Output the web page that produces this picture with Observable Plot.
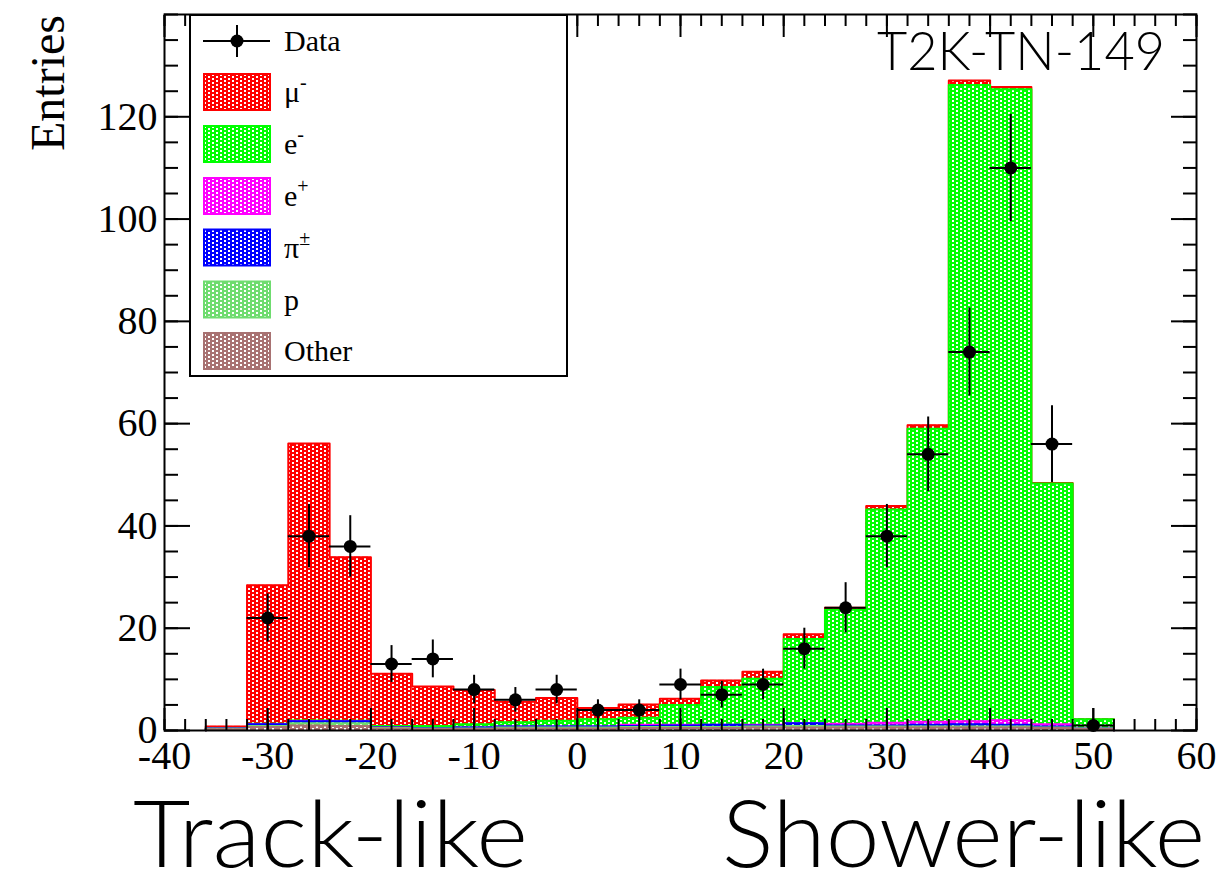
<!DOCTYPE html>
<html>
<head>
<meta charset="utf-8">
<script src="https://cdn.jsdelivr.net/npm/d3@7"></script>
<script src="https://cdn.jsdelivr.net/npm/@observablehq/plot@0.6"></script>
<style>
  html, body { margin: 0; padding: 0; background: #fff; }
  #chart svg { display: block; }
</style>
</head>
<body>
<div id="chart"></div>
<script>
// Lower edges of the 4-unit bins of the discriminator variable
const binLow = [-36, -32, -28, -24, -20, -16, -12, -8, -4, 0, 4, 8, 12, 16, 20, 24, 28, 32, 36, 40, 44, 48];
const binWidth = 4;

// Simulated contributions per bin, stacked bottom to top
const other    = [0.25, 0.7, 1.0, 0.9, 0.4, 0.3, 0.3, 0.4, 0.4, 0.4, 0.5, 0.5, 0.5, 0.6, 0.6, 0.6, 0.6, 0.6, 0.6, 0.6, 0.5, 0.3];
const proton   = [0.1, 0.2, 0.4, 0.5, 0.1, 0.1, 0.1, 0.2, 0.2, 0.2, 0.2, 0.2, 0.2, 0.2, 0.3, 0.2, 0.2, 0.2, 0.2, 0.2, 0.1, 0.1];
const pion     = [0.05, 0.3, 0.4, 0.4, 0.1, 0.1, 0.2, 0.2, 0.2, 0.2, 0.2, 0.3, 0.4, 0.2, 0.5, 0.2, 0.2, 0.3, 0.4, 0.3, 0.2, 0];
const positron = [0, 0, 0.05, 0, 0, 0, 0, 0, 0, 0, 0.2, 0.1, 0, 0.1, 0, 0.3, 0.5, 0.6, 0.6, 0.9, 0.4, 0];
const electron = [0.1, 0.1, 0.1, 0.1, 0.3, 0.4, 0.6, 0.8, 1.1, 1.4, 1.4, 3.9, 7.4, 9.0, 16.5, 22.3, 41.7, 57.3, 124.4, 123.4, 47.1, 1.8];
const muon     = [0.3, 27.1, 54.15, 32.0, 10.2, 7.7, 6.7, 4.0, 4.45, 2.2, 2.6, 1.2, 1.3, 1.4, 0.9, 0.4, 0.7, 0.7, 0.9, 0.4, 0.1, 0];

// Observed entries per bin and their error bars
const dataCounts = [0, 22, 38, 36, 13, 14, 8, 6, 8, 4, 4, 9, 7, 9, 16, 24, 38, 54, 74, 110, 56, 1];
const errUp      = [0, 4.7, 6.2, 6.0, 3.6, 3.7, 2.8, 2.4, 2.8, 2.0, 2.0, 3.0, 2.6, 3.0, 4.0, 4.9, 6.2, 7.3, 8.6, 10.5, 7.5, 3.3];
const errDown    = [0, 4.7, 6.2, 6.0, 3.6, 3.7, 2.8, 2.4, 2.8, 2.0, 2.0, 3.0, 2.6, 3.0, 4.0, 4.9, 6.2, 7.3, 8.6, 10.5, 7.5, 0.8];

// Axis ticks
const xMajor = [-40, -30, -20, -10, 0, 10, 20, 30, 40, 50, 60];
const yMajor = [0, 20, 40, 60, 80, 100, 120];

// Components, bottom of the stack first
const components = [
  {label: "Other", values: other,    color: "#a87272", id: "pat-other"},
  {label: "p",     values: proton,   color: "#6fdc6f", id: "pat-p"},
  {label: "π", sup: "±", values: pion,     color: "#0000ff", id: "pat-pi"},
  {label: "e", sup: "+", values: positron, color: "#ff00ff", id: "pat-ep"},
  {label: "e", sup: "-", values: electron, color: "#00ff00", id: "pat-em"},
  {label: "μ", sup: "-", values: muon,     color: "#ff0000", id: "pat-mu"}
];

// Cumulative stack levels
let running = binLow.map(() => 0);
const levels = components.map(c => {
  running = running.map((r, i) => r + c.values[i]);
  return {...c, cum: running.slice()};
});

// Step outline of one cumulative level
function outline(cum) {
  const pts = [{x: binLow[0], y: 0}];
  binLow.forEach((lo, i) => {
    pts.push({x: lo, y: cum[i]});
    pts.push({x: lo + binWidth, y: cum[i]});
  });
  pts.push({x: binLow[binLow.length - 1] + binWidth, y: 0});
  return pts;
}

// Drawn from the total down, each lower level painted over the one above
const histMarks = [];
levels.slice().reverse().forEach(l => {
  const bars = binLow.map((lo, i) => ({x1: lo, x2: lo + binWidth, y: l.cum[i]}));
  histMarks.push(Plot.rectY(bars, {x1: "x1", x2: "x2", y1: 0, y2: "y", fill: `url(#${l.id})`}));
  histMarks.push(Plot.line(outline(l.cum), {x: "x", y: "y", stroke: l.color, strokeWidth: 2}));
});

const points = binLow.map((lo, i) => ({
  c: lo + binWidth / 2, x1: lo, x2: lo + binWidth,
  n: dataCounts[i], lo: dataCounts[i] - errDown[i], hi: dataCounts[i] + errUp[i]
})).filter(d => d.n > 0);

const xMinor = d3.range(-40, 61, 2);
const yMinor = d3.range(0, 141, 5);

const chart = Plot.plot({
  width: 1228,
  height: 873,
  marginLeft: 164,
  marginRight: 32,
  marginTop: 14,
  marginBottom: 143,
  x: {domain: [-40, 60]},
  y: {domain: [0, 140]},
  style: {fontFamily: "'Liberation Serif', 'Times New Roman', serif", fontSize: "40px", color: "black", background: "white"},
  marks: [
    ...histMarks,
    Plot.ruleX(points, {x: "c", y1: "lo", y2: "hi", stroke: "black", strokeWidth: 2}),
    Plot.ruleY(points, {y: "n", x1: "x1", x2: "x2", stroke: "black", strokeWidth: 2}),
    Plot.dot(points, {x: "c", y: "n", r: 6.5, fill: "black", stroke: "none"}),
    // axes: labels, then inward ticks on all four sides
    Plot.axisX({ticks: xMajor, tickSize: 0, tickPadding: 10, tickFormat: d => `${d}`, label: null}),
    Plot.axisY({ticks: yMajor, tickSize: 0, tickPadding: 7, tickFormat: d => `${d}`, label: null}),
    Plot.axisX({ticks: xMajor, tickSize: -22, fill: "none", strokeWidth: 2}),
    Plot.axisX({ticks: xMinor, tickSize: -11, fill: "none", strokeWidth: 2}),
    Plot.axisX({anchor: "top", ticks: xMajor, tickSize: -22, fill: "none", strokeWidth: 2}),
    Plot.axisX({anchor: "top", ticks: xMinor, tickSize: -11, fill: "none", strokeWidth: 2}),
    Plot.axisY({ticks: yMajor, tickSize: -26, fill: "none", strokeWidth: 2}),
    Plot.axisY({ticks: yMinor, tickSize: -14, fill: "none", strokeWidth: 2}),
    Plot.axisY({anchor: "right", ticks: yMajor, tickSize: -26, fill: "none", strokeWidth: 2}),
    Plot.axisY({anchor: "right", ticks: yMinor, tickSize: -14, fill: "none", strokeWidth: 2}),
    Plot.frame({stroke: "black", strokeWidth: 2})
  ]
});

const svg = d3.select(chart);

// Checkered fill patterns: colour with a staggered grid of white dots
const defs = svg.insert("defs", ":first-child");
components.forEach(c => {
  const p = defs.append("pattern").attr("id", c.id)
    .attr("patternUnits", "userSpaceOnUse").attr("width", 8).attr("height", 4);
  p.append("rect").attr("width", 8).attr("height", 4).attr("fill", c.color);
  p.append("rect").attr("x", 0).attr("y", 0).attr("width", 2).attr("height", 2).attr("fill", "white");
  p.append("rect").attr("x", 4).attr("y", 2).attr("width", 2).attr("height", 2).attr("fill", "white");
});

// Y title
svg.append("text")
  .attr("transform", "translate(64,15) rotate(-90)")
  .attr("text-anchor", "end")
  .attr("font-family", "'Liberation Serif', serif")
  .attr("font-size", 48)
  .text("Entries");

// Tag and axis annotations
const sans = "Lato, Roboto, 'Liberation Sans', sans-serif";
function label(x, y, size, width, anchor, str) {
  svg.append("text").attr("x", x).attr("y", y).attr("text-anchor", anchor)
    .attr("font-family", sans).attr("font-weight", 300).attr("font-size", size)
    .attr("textLength", width).attr("lengthAdjust", "spacingAndGlyphs")
    .text(str);
}
label(877, 70, 54, 288, "start", "T2K-TN-149");
label(133, 867, 92, 395, "start", "Track-like");
label(722, 867, 92, 483, "start", "Shower-like");

// Legend box
const lg = svg.append("g").attr("font-family", "'Liberation Serif', serif").attr("font-size", 30).attr("text-anchor", "start");
lg.append("rect").attr("x", 190).attr("y", 15).attr("width", 377).attr("height", 361)
  .attr("fill", "white").attr("stroke", "black").attr("stroke-width", 2);
const rowY = [41, 92, 144, 196, 247.5, 299.5, 351];
// Data entry
lg.append("line").attr("x1", 203).attr("x2", 270).attr("y1", rowY[0]).attr("y2", rowY[0]).attr("stroke", "black").attr("stroke-width", 2);
lg.append("line").attr("x1", 237).attr("x2", 237).attr("y1", rowY[0] - 16).attr("y2", rowY[0] + 16).attr("stroke", "black").attr("stroke-width", 2);
lg.append("circle").attr("cx", 237).attr("cy", rowY[0]).attr("r", 6.5).attr("fill", "black");
lg.append("text").attr("x", 284).attr("y", rowY[0] + 10).text("Data");
// Simulated components, top of the stack first
components.slice().reverse().forEach((c, i) => {
  const cy = rowY[i + 1];
  lg.append("rect").attr("x", 204).attr("y", cy - 18).attr("width", 66).attr("height", 36)
    .attr("fill", `url(#${c.id})`).attr("stroke", c.color).attr("stroke-width", 2);
  const t = lg.append("text").attr("x", 284).attr("y", cy + 10);
  t.append("tspan").text(c.label);
  if (c.sup) t.append("tspan").attr("dy", -13).attr("font-size", 20).text(c.sup);
});

document.getElementById("chart").appendChild(chart);
</script>
</body>
</html>
